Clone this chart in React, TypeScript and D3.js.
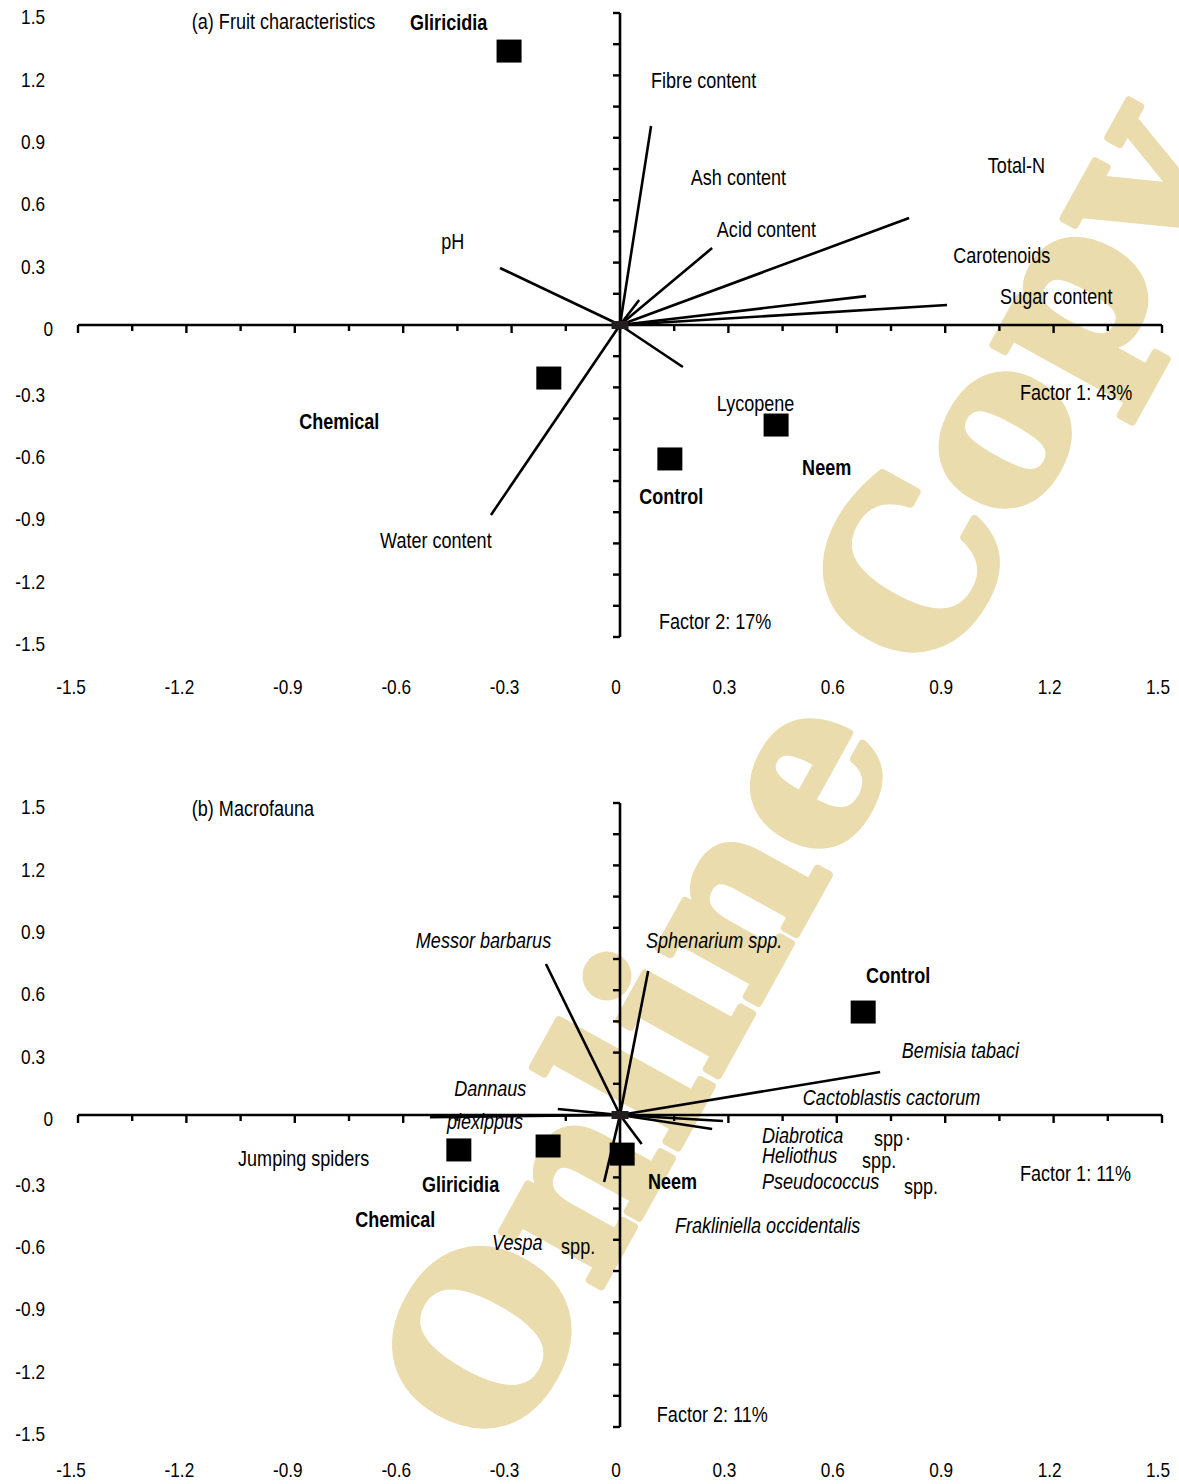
import React from 'react';
import * as d3 from 'd3';

// ---------- data ----------
const tickValues = [-1.5, -1.2, -0.9, -0.6, -0.3, 0, 0.3, 0.6, 0.9, 1.2, 1.5];
const tickLabels = ['-1.5', '-1.2', '-0.9', '-0.6', '-0.3', '0', '0.3', '0.6', '0.9', '1.2', '1.5'];
const minorTickValues = d3.range(-1.5, 1.5001, 0.15);

// Panel (a) Fruit characteristics
const treatmentsA = ['Gliricidia', 'Chemical', 'Control', 'Neem'];
const scoreAx = [-0.307, -0.197, 0.138, 0.432];
const scoreAy = [1.317, -0.255, -0.644, -0.481];

const variablesA = ['Fibre content', 'Ash content', 'Acid content', 'Total-N', 'Carotenoids', 'Sugar content', 'pH', 'Lycopene', 'Water content'];
const loadAx = [0.086, 0.053, 0.255, 0.8, 0.681, 0.905, -0.332, 0.174, -0.357];
const loadAy = [0.957, 0.12, 0.37, 0.514, 0.139, 0.096, 0.274, -0.202, -0.913];

// Panel (b) Macrofauna
const treatmentsB = ['Control', 'Gliricidia', 'Chemical', 'Neem'];
const scoreBx = [0.673, -0.446, -0.199, 0.006];
const scoreBy = [0.495, -0.168, -0.149, -0.188];

const variablesB = ['Messor barbarus', 'Sphenarium spp.', 'Bemisia tabaci', 'Diabrotica spp.', 'Heliothus spp.', 'Dannaus plexippus', 'Jumping spiders', 'Vespa spp.', 'Frakliniella occidentalis'];
const loadBx = [-0.205, 0.078, 0.72, 0.285, 0.255, -0.172, -0.526, -0.044, 0.06];
const loadBy = [0.726, 0.692, 0.207, -0.029, -0.067, 0.029, -0.01, -0.322, -0.139];

// annotation text (anchor = left edge, vertical centre, in data units)
type Lab = { t: string; x: number; y: number; b?: boolean; i?: boolean };
const labelsA: Lab[] = [
  { t: '(a) Fruit characteristics', x: -1.185, y: 1.462 },
  { t: 'Gliricidia', x: -0.581, y: 1.457, b: true },
  { t: 'Fibre content', x: 0.086, y: 1.178 },
  { t: 'Ash content', x: 0.196, y: 0.712 },
  { t: 'Acid content', x: 0.268, y: 0.462 },
  { t: 'Total-N', x: 1.018, y: 0.769 },
  { t: 'Carotenoids', x: 0.922, y: 0.337 },
  { t: 'Sugar content', x: 1.052, y: 0.139 },
  { t: 'pH', x: -0.495, y: 0.404 },
  { t: 'Chemical', x: -0.888, y: -0.462, b: true },
  { t: 'Water content', x: -0.664, y: -1.034 },
  { t: 'Lycopene', x: 0.268, y: -0.375 },
  { t: 'Control', x: 0.053, y: -0.822, b: true },
  { t: 'Neem', x: 0.504, y: -0.683, b: true },
  { t: 'Factor 1: 43%', x: 1.107, y: -0.322 },
  { t: 'Factor 2: 17%', x: 0.108, y: -1.423 },
];
const labelsB: Lab[] = [
  { t: '(b) Macrofauna', x: -1.185, y: 1.476 },
  { t: 'Messor barbarus', x: -0.565, y: 0.841, i: true },
  { t: 'Sphenarium spp.', x: 0.072, y: 0.841, i: true },
  { t: 'Control', x: 0.681, y: 0.673, b: true },
  { t: 'Bemisia tabaci', x: 0.78, y: 0.3125, i: true },
  { t: 'Cactoblastis cactorum', x: 0.506, y: 0.0865, i: true },
  { t: 'Dannaus', x: -0.459, y: 0.13, i: true },
  { t: 'plexippus', x: -0.479, y: -0.029, i: true },
  { t: 'Diabrotica', x: 0.393, y: -0.096, i: true },
  { t: 'spp', x: 0.703, y: -0.111 },
  { t: '.', x: 0.79, y: -0.085 },
  { t: 'Heliothus', x: 0.393, y: -0.192, i: true },
  { t: 'spp.', x: 0.67, y: -0.216 },
  { t: 'Pseudococcus', x: 0.393, y: -0.317, i: true },
  { t: 'spp.', x: 0.786, y: -0.341 },
  { t: 'Factor 1: 11%', x: 1.107, y: -0.279 },
  { t: 'Jumping spiders', x: -1.057, y: -0.207 },
  { t: 'Gliricidia', x: -0.548, y: -0.332, b: true },
  { t: 'Neem', x: 0.0775, y: -0.317, b: true },
  { t: 'Chemical', x: -0.733, y: -0.5, b: true },
  { t: 'Frakliniella occidentalis', x: 0.152, y: -0.529, i: true },
  { t: 'Vespa', x: -0.354, y: -0.611, i: true },
  { t: 'spp.', x: -0.163, y: -0.63 },
  { t: 'Factor 2: 11%', x: 0.102, y: -1.4375 },
];

// ---------- layout ----------
const W = 1179;
const H = 1484;
const FONT = "'Liberation Sans', Arial, sans-serif";
const NARROW = 0.82;
const INK = '#000';

const x = d3.scaleLinear().domain([-1.5, 1.5]).range([78, 1162]);
const yBase = d3.scaleLinear().domain([-1.5, 1.5]).range([637, 13]);

type PanelProps = {
  dy: number;
  labelDy: number;
  xs: number[]; ys: number[];
  lx: number[]; ly: number[];
  labels: Lab[];
};

function NText({ px, py, anchor = 'start', size, bold, italic, children }: any) {
  return (
    <text transform={`translate(${px},${py}) scale(${NARROW},1)`} textAnchor={anchor} dominantBaseline="central"
      fontSize={size} fontFamily={FONT} fontWeight={bold ? 'bold' : 'normal'} fontStyle={italic ? 'italic' : 'normal'} fill={INK}>
      {children}
    </text>
  );
}

function Panel({ dy, labelDy, xs, ys, lx, ly, labels }: PanelProps) {
  const y = (v: number) => yBase(v) + dy;
  const x0 = x(0);
  const y0 = y(0);
  const line = d3.line<[number, number]>();
  return (
    <g>
      {lx.map((v, k) => (
        <path key={'v' + k} d={line([[x0, y0], [x(v), y(ly[k])]]) || ''} stroke={INK} strokeWidth={2.6} fill="none" />
      ))}
      <line x1={x(-1.5)} x2={x(1.5)} y1={y0} y2={y0} stroke={INK} strokeWidth={2.6} />
      <line x1={x0} x2={x0} y1={y(1.5)} y2={y(-1.5)} stroke={INK} strokeWidth={2.6} />
      {minorTickValues.map((v, k) => {
        const major = Math.abs(Math.round(v / 0.3) * 0.3 - v) < 1e-6;
        return (
          <line key={'tx' + k} x1={x(v)} x2={x(v)} y1={y0} y2={y0 + (major ? 8 : 6)} stroke={INK} strokeWidth={2.4} />
        );
      })}
      {minorTickValues.map((v, k) => (
        <line key={'ty' + k} x1={x0} x2={x0 - 7} y1={y(v)} y2={y(v)} stroke={INK} strokeWidth={2.4} />
      ))}
      <rect x={x0 - 8.5} y={y0 - 4} width={17} height={8} fill="#231f20" />
      {xs.map((v, k) => (
        <rect key={'s' + k} x={x(v) - 12.5} y={y(ys[k]) - 11.5} width={25} height={23} fill={INK} />
      ))}
      {tickValues.map((v, k) => (
        <NText key={'lx' + k} px={x(v) - (v < 0 ? 7 : 4)} py={yBase(-1.5) + dy + labelDy} anchor="middle" size={21}>
          {tickLabels[k]}
        </NText>
      ))}
      {tickValues.map((v, k) => (
        <NText key={'ly' + k} px={v === 0 ? 53 : 45} py={y(v) + (v < 0 ? 7 : 4)} anchor="end" size={21}>
          {tickLabels[k]}
        </NText>
      ))}
      {labels.map((l, k) => (
        <NText key={'a' + k} px={x(l.x)} py={y(l.y)} size={22} bold={l.b} italic={l.i}>
          {l.t}
        </NText>
      ))}
    </g>
  );
}

export default function App() {
  return (
    <svg width={W} height={H} viewBox={`0 0 ${W} ${H}`} style={{ position: 'absolute', left: 0, top: 0, background: '#fff' }}>
      <rect width={W} height={H} fill="#fff" />
      <text transform="translate(798,772) rotate(-61)" textAnchor="middle" dominantBaseline="central"
        fontFamily="'DejaVu Serif', serif" fontWeight="bold" fontSize={218} fill="#eadcad"
        stroke="#eadcad" strokeWidth={8} strokeLinejoin="round">
        Online Copy
      </text>
      <Panel dy={0} labelDy={50} xs={scoreAx} ys={scoreAy} lx={loadAx} ly={loadAy} labels={labelsA} />
      <Panel dy={790} labelDy={43} xs={scoreBx} ys={scoreBy} lx={loadBx} ly={loadBy} labels={labelsB} />
    </svg>
  );
}
